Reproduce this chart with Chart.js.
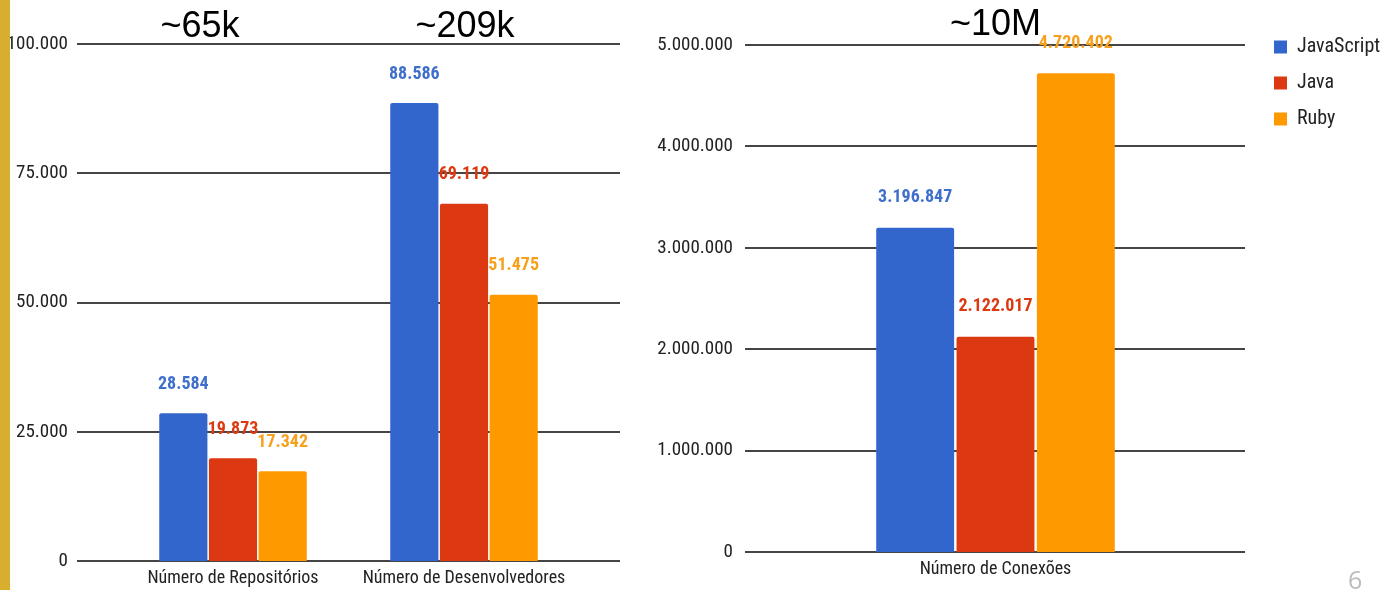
<!DOCTYPE html>
<html lang="pt">
<head>
  <meta charset="UTF-8" />
  <title>JavaScript x Java x Ruby</title>
  <style>
    body {
      margin: 0;
      background: #ffffff;
      width: 1382px;
      height: 590px;
      overflow: hidden;
      position: relative;
      font-family: 'Liberation Sans', Arial, sans-serif;
    }
    .gold-bar { /* slide edge strip */
      position: absolute;
      left: 0; top: 0;
      width: 10px; height: 590px;
      background: #d8ae2f;
    }
    .chart-box { position: absolute; top: 0; height: 590px; }
    #leftBox { left: 10px; width: 620px; }
    #rightBox { left: 630px; width: 752px; }
    .note {
      position: absolute;
      width: 200px;
      text-align: center;
      font-size: 36px;
      line-height: 36px;
      color: #000;
      top: 7px;
    }
    .page-num {
      position: absolute;
      left: 1348px; top: 562px;
      font-family: 'Open Sans', sans-serif;
      font-size: 25px;
      color: #bdbdbd;
    }
  </style>
</head>
<body>
  <div class="gold-bar"></div>
  <div class="chart-box" id="leftBox"><canvas id="leftChart"></canvas></div>
  <div class="chart-box" id="rightBox"><canvas id="rightChart"></canvas></div>
  <div class="note" id="note0" style="left:100px"></div>
  <div class="note" id="note1" style="left:365px"></div>
  <div class="page-num">6</div>

  <script src="https://cdn.jsdelivr.net/npm/chart.js"></script>
  <script>
    // ---- data ----
    const seriesNames = ['JavaScript', 'Java', 'Ruby'];
    const leftCategories = ['Número de Repositórios', 'Número de Desenvolvedores'];
    const rightCategories = ['Número de Conexões'];

    const jsLeft = [28584, 88586];
    const javaLeft = [19873, 69119];
    const rubyLeft = [17342, 51475];

    const jsRight = [3196847];
    const javaRight = [2122017];
    const rubyRight = [4720402];

    const leftTicks = [0, 25000, 50000, 75000, 100000];
    const rightTicks = [0, 1000000, 2000000, 3000000, 4000000, 5000000];

    const totals = ['~65k', '~209k', '~10M'];

    // ---- look ----
    const BAR_COLORS = ['#3366cc', '#dc3912', '#ff9900'];
    const LABEL_COLORS = ['#3f6fcc', '#dc3912', '#f7a01c'];
    const NARROW = "'Roboto Condensed', 'Liberation Sans Narrow', 'DejaVu Sans Condensed', 'Liberation Sans', sans-serif";
    const TEXT = '#222222';

    document.getElementById('note0').textContent = totals[0];
    document.getElementById('note1').textContent = totals[1];

    function fmt(v) {
      return String(v).replace(/\B(?=(\d{3})+(?!\d))/g, '.');
    }

    // horizontal lines at every y tick, may run past the plot area
    const extendedGrid = {
      id: 'extendedGrid',
      beforeDatasetsDraw(chart, args, opts) {
        const { ctx, chartArea, scales } = chart;
        const y = scales.y;
        ctx.save();
        ctx.strokeStyle = opts.color;
        ctx.lineWidth = opts.width;
        y.ticks.forEach(t => {
          const py = Math.round(y.getPixelForValue(t.value));
          ctx.beginPath();
          ctx.moveTo(chartArea.left - opts.left, py);
          ctx.lineTo(chartArea.right + opts.right, py);
          ctx.stroke();
        });
        ctx.restore();
      }
    };

    // value printed above each bar
    const barLabels = {
      id: 'barLabels',
      afterDatasetsDraw(chart, args, opts) {
        const ctx = chart.ctx;
        ctx.save();
        ctx.font = 'bold 18px ' + NARROW;
        ctx.textAlign = 'center';
        ctx.textBaseline = 'middle';
        chart.data.datasets.forEach((ds, i) => {
          const meta = chart.getDatasetMeta(i);
          ctx.fillStyle = LABEL_COLORS[i];
          meta.data.forEach((bar, j) => {
            ctx.fillText(fmt(ds.data[j]), bar.x, bar.y - opts.offset);
          });
        });
        ctx.restore();
      }
    };

    function makeDatasets(values, catPct) {
      return values.map((data, i) => ({
        label: seriesNames[i],
        data: data,
        backgroundColor: BAR_COLORS[i],
        borderColor: BAR_COLORS[i],
        borderWidth: 0,
        borderRadius: 2,
        barPercentage: 0.97,
        categoryPercentage: catPct
      }));
    }

    function yAxis(ticks, width, pad) {
      return {
        min: ticks[0],
        max: ticks[ticks.length - 1],
        afterBuildTicks: s => { s.ticks = ticks.map(v => ({ value: v })); },
        afterFit: s => {
          s.width = width;
          // tick padding would otherwise push the plot area down
          s.paddingTop = 0;
          s.paddingBottom = 0;
        },
        grid: { display: false, drawTicks: false },
        border: { display: false },
        ticks: {
          padding: pad,
          color: TEXT,
          font: { family: NARROW, size: 19 },
          callback: v => fmt(v)
        }
      };
    }

    function xAxis(height) {
      return {
        afterFit: s => { s.height = height; },
        grid: { display: false, drawTicks: false },
        border: { display: false },
        ticks: {
          padding: 7,
          maxRotation: 0,
          color: TEXT,
          font: { family: NARROW, size: 18 }
        }
      };
    }

    new Chart(document.getElementById('leftChart'), {
      type: 'bar',
      data: {
        labels: leftCategories,
        datasets: makeDatasets([jsLeft, javaLeft, rubyLeft], 0.645)
      },
      options: {
        responsive: true,
        maintainAspectRatio: false,
        animation: false,
        layout: { padding: { top: 44, right: 50.5, bottom: 0, left: 0 } },
        scales: { x: xAxis(29), y: yAxis(leftTicks, 107.5, 49.5) },
        plugins: {
          legend: { display: false },
          tooltip: { enabled: false },
          extendedGrid: { color: '#454545', width: 2, left: 40.5, right: 40.5 },
          barLabels: { offset: 29 }
        }
      },
      plugins: [extendedGrid, barLabels]
    });

    new Chart(document.getElementById('rightChart'), {
      type: 'bar',
      data: {
        labels: rightCategories,
        datasets: makeDatasets([jsRight, javaRight, rubyRight], 0.459)
      },
      options: {
        responsive: true,
        maintainAspectRatio: false,
        animation: false,
        layout: { padding: { top: 21, right: 0, bottom: 0, left: 0 } },
        scales: { x: xAxis(38), y: yAxis(rightTicks, 103, 0) },
        plugins: {
          title: {
            display: true,
            fullSize: false,
            text: totals[2],
            color: '#000',
            font: { family: "'Liberation Sans', Arial, sans-serif", size: 36, weight: 'normal', lineHeight: '8px' },
            padding: { top: 0, bottom: 16 }
          },
          legend: {
            display: true,
            position: 'right',
            align: 'start',
            maxWidth: 124,
            labels: {
              boxWidth: 13,
              boxHeight: 13,
              padding: 16,
              color: TEXT,
              font: { family: NARROW, size: 20 }
            }
          },
          tooltip: { enabled: false },
          extendedGrid: { color: '#454545', width: 2, left: -12, right: -13 },
          barLabels: { offset: 30 }
        }
      },
      plugins: [extendedGrid, barLabels]
    });
  </script>
</body>
</html>
